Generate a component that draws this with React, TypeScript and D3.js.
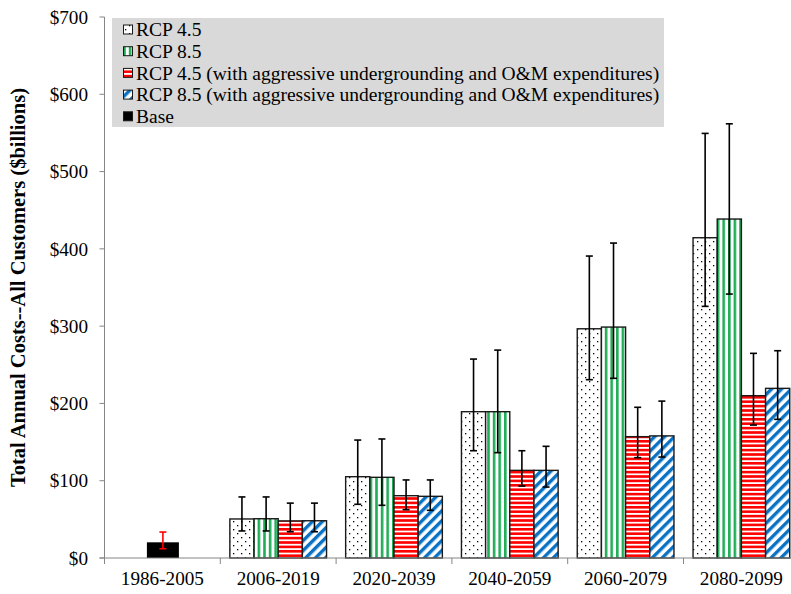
import React from "react";
import * as d3 from "d3";

const categories = ["1986-2005", "2006-2019", "2020-2039", "2040-2059", "2060-2079", "2080-2099"];
const seriesNames = [
  "RCP 4.5",
  "RCP 8.5",
  "RCP 4.5 (with aggressive undergrounding and O&M expenditures)",
  "RCP 8.5 (with aggressive undergrounding and O&M expenditures)",
];
const rcp45 = [null, 50.5, 105.2, 189.3, 296.6, 414.4];
const rcp45Hi = [null, 79, 152.6, 257.4, 390.7, 549.4];
const rcp45Lo = [null, 35, 69.5, 138.8, 230.7, 325.6];
const rcp85 = [null, 50.8, 104.4, 189.3, 298.8, 438.6];
const rcp85Hi = [null, 79, 154, 269, 407.5, 561.8];
const rcp85Lo = [null, 35, 68.2, 136.3, 232.5, 341.5];
const rcp45U = [null, 48, 80.6, 113.4, 157, 210];
const rcp45UHi = [null, 71, 101, 138.8, 195, 264.8];
const rcp45ULo = [null, 34, 62.5, 93.1, 129.8, 172];
const rcp85U = [null, 48.2, 79.8, 113.4, 158, 219.5];
const rcp85UHi = [null, 71, 101, 144.5, 203, 268.2];
const rcp85ULo = [null, 34, 61.7, 91.8, 130.6, 179.4];
const baseValue = 20.3;
const baseHi = 33.6;
const baseLo = 12;
const yTicks = [0, 100, 200, 300, 400, 500, 600, 700];

const seriesVals = [rcp45, rcp85, rcp45U, rcp85U];
const seriesHi = [rcp45Hi, rcp85Hi, rcp45UHi, rcp85UHi];
const seriesLo = [rcp45Lo, rcp85Lo, rcp45ULo, rcp85ULo];
const fills = ["url(#pDots)", "url(#pVert)", "url(#pHoriz)", "url(#pDiag)"];

const W = 791;
const H = 594;
const left = 104.5;
const band = 115.8;
const top = 17;
const bottom = 558;
const font = "'Liberation Serif', 'Times New Roman', serif";
const fs = 19.2;

export default function App() {
  const x0 = d3
    .scaleBand<string>()
    .domain(categories)
    .range([left, left + band * categories.length])
    .padding(0);
  const bw = x0.bandwidth();
  const groupW = 96.7;
  const x1 = d3
    .scaleBand<string>()
    .domain(seriesNames)
    .range([(bw - groupW) / 2, (bw + groupW) / 2])
    .padding(0);
  const y = d3.scaleLinear().domain([0, 700]).range([bottom, top]);
  const axisColor = "#868686";
  const cap = 3.5;

  const errBar = (cx: number, hi: number, lo: number, color: string, key: string) => (
    <g key={key} stroke={color} strokeWidth={1.6}>
      <line x1={cx} x2={cx} y1={y(hi)} y2={y(lo)} />
      <line x1={cx - cap} x2={cx + cap} y1={y(hi)} y2={y(hi)} />
      <line x1={cx - cap} x2={cx + cap} y1={y(lo)} y2={y(lo)} />
    </g>
  );

  const baseCx = (x0(categories[0]) as number) + bw / 2 + 0.5;
  const baseW = 32;

  const legendRows = [
    { label: seriesNames[0], fill: fills[0] },
    { label: seriesNames[1], fill: fills[1] },
    { label: seriesNames[2], fill: fills[2] },
    { label: seriesNames[3], fill: fills[3] },
    { label: "Base", fill: "#000" },
  ];

  return (
    <svg
      width={W}
      height={H}
      style={{ position: "absolute", left: 0, top: 0, background: "#fff", fontFamily: font }}
    >
      <defs>
        <pattern id="pDots" width={8} height={8} patternUnits="userSpaceOnUse">
          <rect width={8} height={8} fill="#fff" />
          <rect x={1} y={1} width={1.3} height={1.3} fill="#000" />
          <rect x={5} y={5} width={1.3} height={1.3} fill="#000" />
        </pattern>
        <pattern id="pVert" width={5.6} height={6} patternUnits="userSpaceOnUse">
          <rect width={5.6} height={6} fill="#fff" />
          <rect x={0} y={0} width={2.6} height={6} fill="#1fae57" />
        </pattern>
        <pattern id="pHoriz" width={6} height={4.4} patternUnits="userSpaceOnUse">
          <rect width={6} height={4.4} fill="#fff" />
          <rect x={0} y={0} width={6} height={2.6} fill="#ff0000" />
        </pattern>
        <pattern
          id="pDiag"
          width={7}
          height={7}
          patternUnits="userSpaceOnUse"
          patternTransform="rotate(45)"
        >
          <rect width={7} height={7} fill="#fff" />
          <rect x={0} y={0} width={3.4} height={7} fill="#0a72c4" />
        </pattern>
      </defs>

      {/* bars */}
      {categories.map((c, ci) =>
        seriesNames.map((s, si) => {
          const v = seriesVals[si][ci];
          if (v == null) return null;
          const bx = (x0(c) as number) + (x1(s) as number);
          return (
            <rect
              key={`b-${ci}-${si}`}
              x={bx}
              y={y(v)}
              width={x1.bandwidth()}
              height={y(0) - y(v)}
              fill={fills[si]}
              stroke="#1a1a1a"
              strokeWidth={1.4}
            />
          );
        })
      )}
      <rect
        x={baseCx - baseW / 2}
        y={y(baseValue)}
        width={baseW}
        height={y(0) - y(baseValue)}
        fill="#000"
      />

      {/* error bars */}
      {categories.map((c, ci) =>
        seriesNames.map((s, si) => {
          const v = seriesVals[si][ci];
          if (v == null) return null;
          const cx = (x0(c) as number) + (x1(s) as number) + x1.bandwidth() / 2;
          return errBar(cx, seriesHi[si][ci] as number, seriesLo[si][ci] as number, "#000", `e-${ci}-${si}`);
        })
      )}
      {errBar(baseCx, baseHi, baseLo, "#ff0000", "e-base")}

      {/* axes */}
      <line x1={left} x2={left} y1={top} y2={bottom} stroke={axisColor} strokeWidth={1} />
      {yTicks.map((t) => (
        <g key={`yt-${t}`}>
          <line x1={left - 5} x2={left} y1={y(t)} y2={y(t)} stroke={axisColor} />
          <text x={88} y={y(t)} dy="0.35em" textAnchor="end" fontSize={fs} fill="#000">
            {"$" + t}
          </text>
        </g>
      ))}
      <line x1={left - 5} x2={W} y1={bottom} y2={bottom} stroke={axisColor} strokeWidth={1} />
      {categories.map((c) => (
        <g key={`xt-${c}`}>
          <line x1={x0(c) as number} x2={x0(c) as number} y1={bottom} y2={bottom + 6} stroke={axisColor} />
          <text x={(x0(c) as number) + bw / 2} y={bottom + 27} textAnchor="middle" fontSize={fs} fill="#000">
            {c}
          </text>
        </g>
      ))}

      <text
        transform={`translate(25, ${(top + bottom) / 2}) rotate(-90)`}
        textAnchor="middle"
        fontSize={20.5}
        fontWeight="bold"
        fill="#000"
      >
        Total Annual Costs--All Customers ($billions)
      </text>

      {/* legend */}
      <rect x={112} y={18} width={552} height={109} fill="#d9d9d9" />
      {legendRows.map((r, i) => {
        const cy = 29.5 + i * 21.7;
        return (
          <g key={`lg-${i}`}>
            <rect x={123.5} y={cy - 4.5} width={9} height={9} fill={r.fill} stroke="#1a1a1a" strokeWidth={1} />
            <text x={136} y={cy} dy="0.35em" fontSize={19.5} fill="#000">
              {r.label}
            </text>
          </g>
        );
      })}
    </svg>
  );
}
